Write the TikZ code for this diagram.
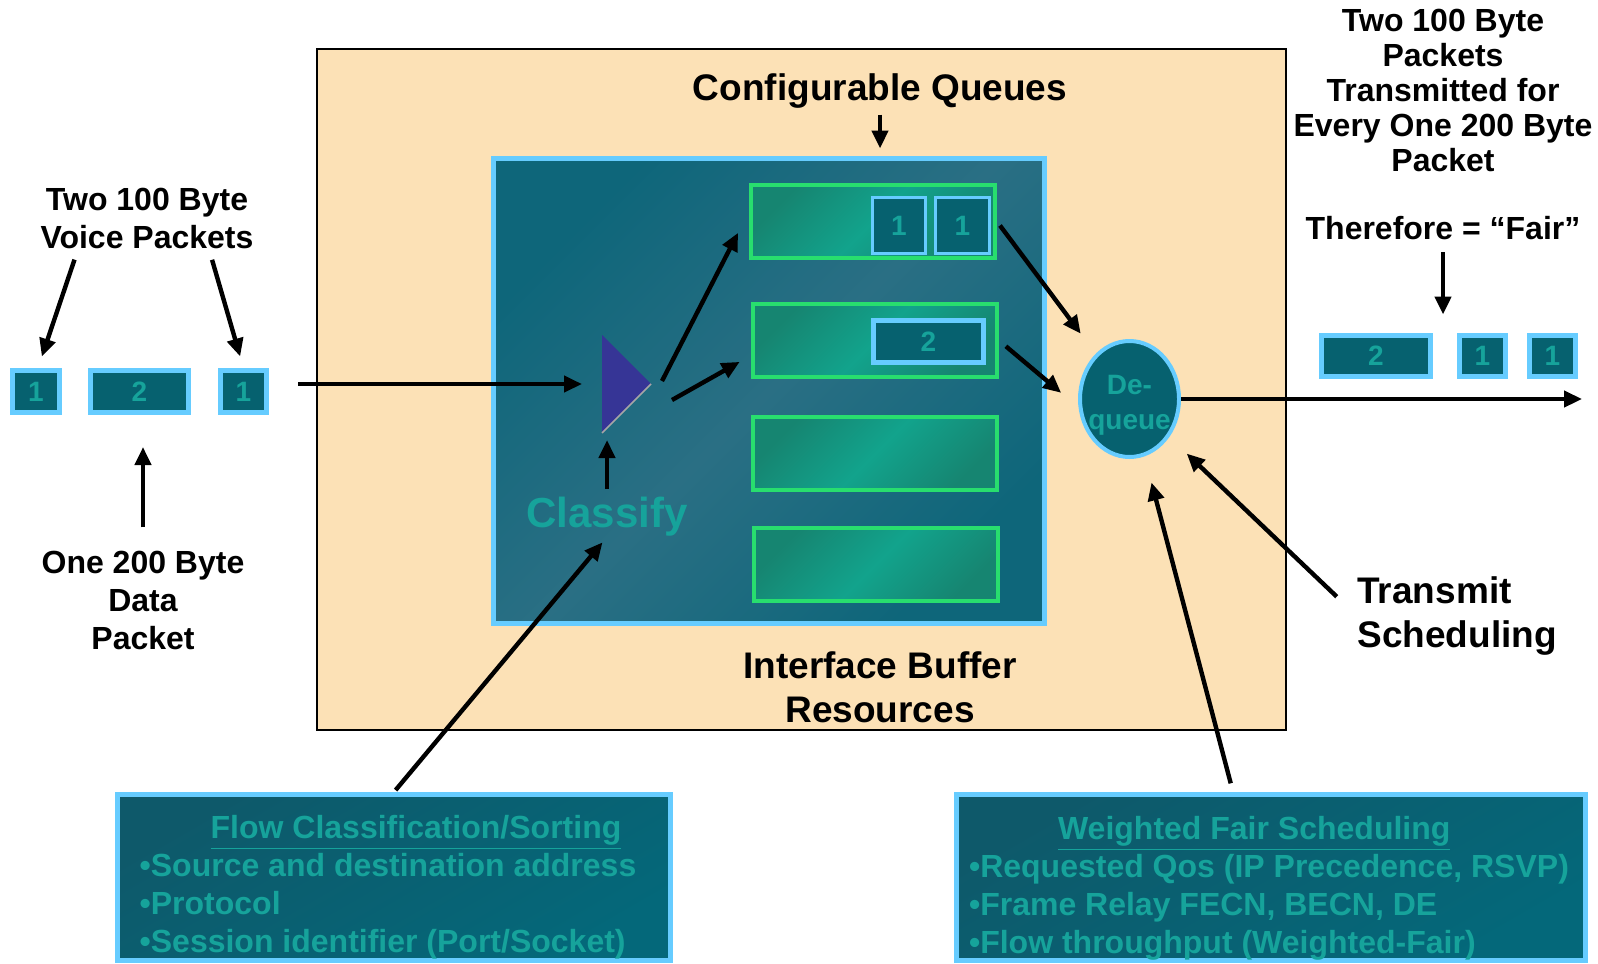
\documentclass[tikz,border=0pt]{standalone}
\usepackage{fontspec}
\setmainfont{Liberation Sans}
\usetikzlibrary{arrows.meta,shapes.geometric}

\definecolor{sabbia}{HTML}{FCE1B6}
\definecolor{petrolio}{HTML}{2A6F84}
\definecolor{petrolioscuro}{HTML}{0E667A}
\definecolor{verdeacqua}{HTML}{12A38C}
\definecolor{verdeacquascuro}{HTML}{168571}
\definecolor{verdebordo}{HTML}{28DE6E}
\definecolor{celeste}{HTML}{66CCFF}
\definecolor{pacco}{HTML}{06616F}
\definecolor{testoacqua}{HTML}{16A39B}
\definecolor{viola}{HTML}{363596}
\definecolor{riqscuro}{HTML}{0E596A}
\definecolor{riqchiaro}{HTML}{04687A}

\begin{document}
\begin{tikzpicture}[
  x=0.5pt, y=-0.5pt,
  font=\bfseries,
  freccia/.style={draw=black, line width=2.2pt, -{Triangle[length=9pt,width=8pt]}},
  pacchetto/.style={draw=celeste, line width=2.5pt, fill=pacco, inner sep=0pt,
    minimum height=21pt, text=testoacqua, font=\fontsize{14}{16}\selectfont\bfseries},
  coda/.style={draw=verdebordo, line width=2pt, top color=verdeacquascuro,
    bottom color=verdeacquascuro, middle color=verdeacqua, shading angle=45,
    minimum width=122pt, minimum height=36.5pt, inner sep=0pt},
  etichetta/.style={inner sep=0pt, align=center, font=\fontsize{16}{19}\selectfont\bfseries},
  titolo/.style={inner sep=0pt, align=center, font=\fontsize{18.5}{22}\selectfont\bfseries},
  riquadro/.style={draw=celeste, line width=2.5pt, top color=riqscuro, bottom color=riqchiaro,
    shading angle=30, inner sep=0pt},
  elenco/.style={inner sep=0pt, align=left, text=testoacqua,
    font=\fontsize{16}{19}\selectfont\bfseries}
]
\useasboundingbox (0,0) rectangle (1598,963);

%--------------------------------------------------------------
% Risorse del buffer di interfaccia
%--------------------------------------------------------------
\node[draw=black, line width=1.2pt, fill=sabbia, minimum width=484.5pt,
  minimum height=340.5pt, inner sep=0pt] (risorse) at (801.5,389.5) {};
\node[draw=celeste, line width=2.5pt, top color=petrolioscuro, bottom color=petrolioscuro,
  middle color=petrolio, shading angle=45, minimum width=275.5pt,
  minimum height=232.5pt, inner sep=0pt] (buffer) at (769,391) {};
\node[titolo] (cq) at (880,91) {Configurable Queues};
\node[titolo] (ibr) at (880,687) {Interface Buffer\\Resources};

%--------------------------------------------------------------
% Code configurabili
%--------------------------------------------------------------
\node[coda] (q1) at (873,221.5) {};
\node[coda] (q2) at (875,340.5) {};
\node[coda] (q3) at (875,453.5) {};
\node[coda] (q4) at (876,564) {};
% pacchetti in coda
\node[pacchetto, line width=1.5pt, minimum width=26.5pt, minimum height=28pt] (q1a) at (899,225.5) {1};
\node[pacchetto, line width=1.5pt, minimum width=27pt, minimum height=28pt] (q1b) at (962.5,225.5) {1};
\node[pacchetto, minimum width=55pt] (q2a) at (928.5,341.5) {2};

%--------------------------------------------------------------
% Classificatore
%--------------------------------------------------------------
\coordinate (tri-su) at (602,335);
\coordinate (tri-giu) at (602,433);
\coordinate (tri-punta) at (651,384);
\fill[viola] (tri-su) -- (tri-punta) -- (tri-giu) -- cycle;
\draw[gray!70, line width=0.8pt] (tri-punta) -- (tri-giu);
\node[inner sep=0pt, text=testoacqua, font=\fontsize{21}{25}\selectfont\bfseries] (classifica) at (607,517) {Classify};

%--------------------------------------------------------------
% De-queue
%--------------------------------------------------------------
\node[ellipse, draw=celeste, line width=2pt, fill=pacco, minimum width=49.5pt,
  minimum height=58pt, inner sep=0pt] (deq) at (1129.5,399) {};
\node[inner sep=0pt, align=center, text=testoacqua,
  font=\fontsize{14}{17.5}\selectfont\bfseries] (deqtesto) at ([yshift=-3pt]deq.center) {De-\\queue};

%--------------------------------------------------------------
% Pacchetti in ingresso
%--------------------------------------------------------------
\node[pacchetto, minimum width=23.5pt] (p1a) at (36,391.5) {1};
\node[pacchetto, minimum width=49pt] (p2a) at (139.5,391.5) {2};
\node[pacchetto, minimum width=23pt] (p1b) at (243.5,391.5) {1};
\node[etichetta] (voce) at (147,218.5) {Two 100 Byte\\Voice Packets};
\node[etichetta] (dati) at (143,600) {One 200 Byte\\Data\\Packet};

%--------------------------------------------------------------
% Pacchetti in uscita
%--------------------------------------------------------------
\node[pacchetto, minimum width=54.5pt, minimum height=20.5pt] (r2) at (1376,356) {2};
\node[pacchetto, minimum width=23pt, minimum height=20.5pt] (r1a) at (1482.5,356) {1};
\node[pacchetto, minimum width=23pt, minimum height=20.5pt] (r1b) at (1552.5,356) {1};
\node[etichetta, font=\fontsize{16}{17.5}\selectfont\bfseries] (equo) at (1443,90)
  {Two 100 Byte\\Packets\\Transmitted for\\Every One 200 Byte\\Packet};
\node[etichetta] (fair) at (1443,228) {Therefore = “Fair”};
\node[titolo, align=left, anchor=west] (sched) at (1357,616) {Transmit\\Scheduling};

%--------------------------------------------------------------
% Riquadri in basso
%--------------------------------------------------------------
\node[riquadro, minimum width=276.5pt, minimum height=83pt] (flusso) at (394,877.5) {};
\node[elenco] (flussotesto) at ([shift={(-3pt,-5pt)}]flusso.center)
  {\hspace*{35.5pt}\underline{Flow Classification/Sorting}\\
   •Source and destination address\\•Protocol\\•Session identifier (Port/Socket)};
\node[riquadro, minimum width=314.5pt, minimum height=83pt] (wfs) at (1271,877.5) {};
\node[elenco] (wfstesto) at ([shift={(-1pt,-5.5pt)}]wfs.center)
  {\hspace*{44.5pt}\underline{Weighted Fair Scheduling}\\
   •Requested Qos (IP Precedence, RSVP)\\•Frame Relay FECN, BECN, DE\\•Flow throughput (Weighted-Fair)};

%--------------------------------------------------------------
% Frecce
%--------------------------------------------------------------
\coordinate (ingresso) at (298,384);
\coordinate (uscita) at (1582,399);
\draw[freccia, shorten >=10pt] (ingresso) -- (tri-su |- ingresso);
\draw[freccia, shorten <=4pt, shorten >=3.5pt] (classifica.north) -- (classifica.north |- tri-giu);
\draw[freccia, shorten >=12pt] ([shift={(5.5pt,1.5pt)}]tri-punta) -- ([yshift=5pt]q1.west);
\draw[freccia, shorten >=6.5pt] ([shift={(10.5pt,-8pt)}]tri-punta) -- ([yshift=-7.5pt]q2.west);
\draw[freccia, shorten <=2.5pt, shorten >=12.5pt] (q1.east) -- (deq);
\draw[freccia, shorten <=4.5pt, shorten >=11pt] (q2.east) -- ([yshift=-4pt]deq.west);
\draw[freccia] (deq) -- (uscita);
\draw[freccia, shorten <=3pt, shorten >=3.75pt] (cq.south) -- (cq.south |- buffer.north);
\draw[freccia, shorten <=5.5pt, shorten >=6pt] ([xshift=-34.5pt]voce.south) -- ([xshift=1pt]p1a.north);
\draw[freccia, shorten <=5.5pt, shorten >=6pt] ([xshift=31pt]voce.south) -- (p1b.north);
\draw[freccia, shorten <=11.5pt, shorten >=16pt] (dati.north) -- (dati.north |- p2a.south);
\draw[freccia, shorten <=6pt, shorten >=9.25pt] (fair.south) -- (fair.south |- r2.north);
\draw[freccia, shorten <=14pt, shorten >=12pt] (sched.west) -- (deq);
\draw[freccia, shorten <=4.5pt, shorten >=13.5pt] ([xshift=-19pt]wfs.north) -- (deq);
\draw[freccia, shorten <=1.25pt, shorten >=3.5pt] (flusso.north) -- (classifica.south);

\end{tikzpicture}
\end{document}
